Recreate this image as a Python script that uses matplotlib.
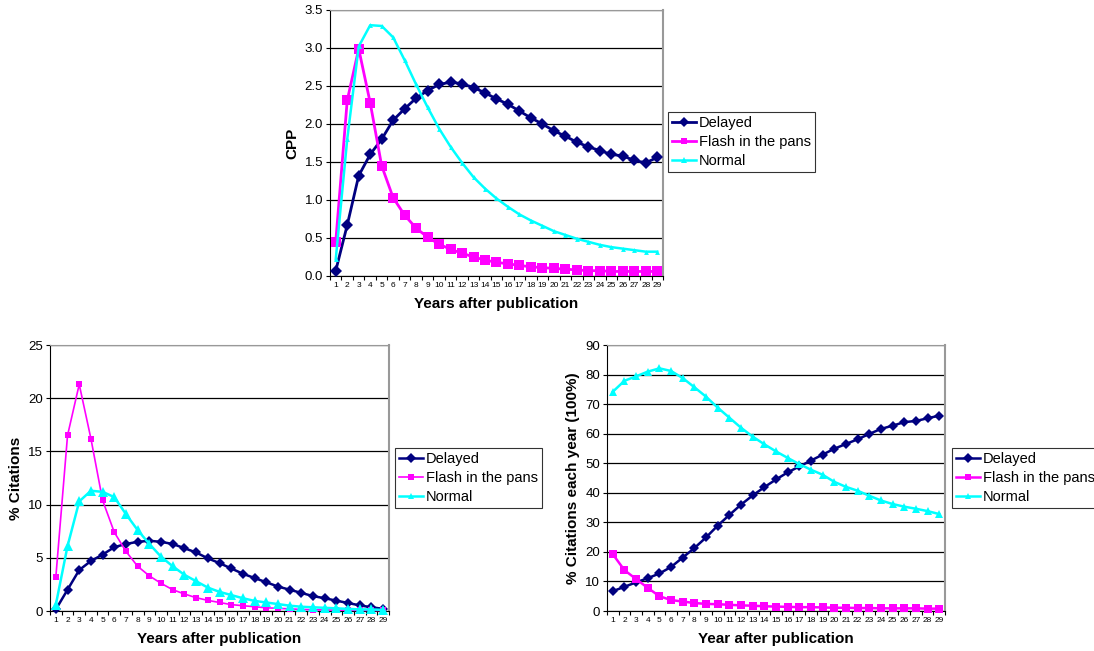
import numpy as np
import matplotlib.pyplot as plt

plt.rcParams['font.family'] = ['Liberation Sans', 'DejaVu Sans']

years = np.arange(1, 30)
series_names = ['Delayed', 'Flash in the pans', 'Normal']

# CPP (top)
cpp_delayed = [0.07, 0.67, 1.32, 1.60, 1.80, 2.05, 2.20, 2.34, 2.44, 2.52, 2.55, 2.53, 2.48, 2.41,
               2.33, 2.26, 2.17, 2.08, 2.00, 1.91, 1.84, 1.76, 1.70, 1.65, 1.60, 1.58, 1.52, 1.49, 1.56]
cpp_flash = [0.45, 2.31, 2.99, 2.28, 1.45, 1.03, 0.80, 0.63, 0.51, 0.42, 0.35, 0.30, 0.25, 0.21,
             0.18, 0.16, 0.14, 0.12, 0.11, 0.10, 0.09, 0.08, 0.07, 0.07, 0.06, 0.06, 0.06, 0.06, 0.06]
cpp_normal = [0.22, 1.80, 3.02, 3.30, 3.29, 3.14, 2.84, 2.52, 2.22, 1.94, 1.70, 1.49, 1.30, 1.15,
              1.02, 0.91, 0.81, 0.73, 0.66, 0.59, 0.54, 0.49, 0.45, 0.41, 0.38, 0.36, 0.34, 0.32, 0.32]

# % citations (bottom left)
pct_delayed = [0.15, 2.0, 3.85, 4.7, 5.3, 6.0, 6.3, 6.5, 6.6, 6.5, 6.3, 5.9, 5.5, 4.95,
               4.5, 4.0, 3.5, 3.1, 2.7, 2.3, 2.0, 1.7, 1.4, 1.2, 0.97, 0.75, 0.53, 0.35, 0.2]
pct_flash = [3.2, 16.5, 21.3, 16.2, 10.4, 7.4, 5.6, 4.2, 3.3, 2.6, 2.0, 1.6, 1.25, 1.0,
             0.8, 0.6, 0.5, 0.4, 0.3, 0.25, 0.2, 0.15, 0.12, 0.1, 0.08, 0.07, 0.06, 0.05, 0.05]
pct_normal = [0.6, 6.1, 10.3, 11.3, 11.2, 10.7, 9.1, 7.6, 6.3, 5.1, 4.2, 3.4, 2.8, 2.2,
              1.8, 1.5, 1.2, 0.95, 0.8, 0.65, 0.5, 0.4, 0.35, 0.3, 0.25, 0.2, 0.15, 0.15, 0.1]

# % citations each year (bottom right)
yr_delayed = [6.7, 8.2, 9.7, 11.1, 12.7, 14.9, 18.1, 21.3, 24.9, 28.9, 32.5, 36.0, 39.1, 41.9,
              44.5, 46.9, 48.9, 50.9, 52.9, 54.9, 56.5, 58.1, 59.9, 61.6, 62.7, 63.9, 64.3, 65.2, 66.1]
yr_flash = [19.2, 13.8, 10.8, 7.8, 5.0, 3.7, 3.2, 2.7, 2.4, 2.3, 2.1, 1.9, 1.8, 1.6,
            1.5, 1.4, 1.3, 1.3, 1.2, 1.1, 1.1, 1.0, 1.0, 0.9, 0.9, 0.9, 0.9, 0.8, 0.8]
yr_normal = [74.2, 77.9, 79.4, 81.0, 82.1, 81.2, 78.8, 75.7, 72.5, 68.8, 65.4, 62.0, 59.0, 56.4,
             54.0, 51.8, 49.7, 47.8, 46.1, 43.7, 42.0, 40.7, 39.0, 37.4, 36.2, 35.3, 34.6, 33.8, 32.8]

colors = ['#000080', '#FF00FF', '#00FFFF']
markers = ['D', 's', '^']

W, H = 1094, 651
fig = plt.figure(figsize=(W / 100, H / 100), dpi=100)


def make_axes(l, t, r, b):
    return fig.add_axes([l / W, 1 - b / H, (r - l) / W, (b - t) / H])


def setup(ax, data, ylim, ystep, yfmt, ylabel, xlabel, msizes, lws, legbox):
    for vals, c, m, ms, lw, name in zip(data, colors, markers, msizes, lws, series_names):
        ax.plot(years, vals, color=c, marker=m, markersize=ms, linewidth=lw,
                markeredgewidth=0, label=name, clip_on=False, zorder=3)
    ax.set_xlim(0.5, 29.5)
    ax.set_ylim(*ylim)
    yt = np.arange(ylim[0], ylim[1] + ystep / 2, ystep)
    ax.set_yticks(yt)
    ax.set_yticklabels([yfmt.format(v) for v in yt], fontsize=9.5)
    ax.set_xticks(years)
    ax.set_xticklabels([str(y) for y in years], fontsize=6)
    ax.set_xticks(np.arange(0.5, 30, 1), minor=True)
    ax.tick_params(axis='x', which='major', length=0, pad=4)
    ax.tick_params(axis='x', which='minor', length=3, direction='out', width=0.8)
    ax.tick_params(axis='y', length=3, direction='out', width=0.8, pad=2)
    ax.grid(axis='y', color='black', linewidth=0.9, zorder=1)
    ax.set_axisbelow(True)
    ax.spines['left'].set_color('black')
    ax.spines['bottom'].set_color('black')
    ax.spines['top'].set_color('#999999')
    ax.spines['right'].set_color('#999999')
    ax.spines['right'].set_linewidth(1.5)
    ax.set_ylabel(ylabel, fontsize=11, fontweight='bold', labelpad=4)
    ax.set_xlabel(xlabel, fontsize=11, fontweight='bold', labelpad=6)
    leg = ax.legend(loc='upper left', bbox_to_anchor=legbox, bbox_transform=fig.transFigure,
                    frameon=True, fancybox=False, fontsize=10.5, handlelength=1.6,
                    handletextpad=0.2, borderpad=0.3, labelspacing=0.33, borderaxespad=0)
    leg.get_frame().set_edgecolor('black')
    leg.get_frame().set_linewidth(0.8)
    for h in leg.legend_handles:
        h.set_markersize(5)


ax1 = make_axes(330, 10, 663, 276)
setup(ax1, [cpp_delayed, cpp_flash, cpp_normal], (0, 3.5), 0.5, '{:.1f}', 'CPP',
      'Years after publication', [6, 7.5, 3.5], [2, 2, 1.8], (668 / W, 1 - 112 / H))

ax2 = make_axes(50, 345, 389, 611)
setup(ax2, [pct_delayed, pct_flash, pct_normal], (0, 25), 5, '{:.0f}', '% Citations',
      'Years after publication', [5.5, 5, 6.5], [1.8, 1.2, 1.8], (395 / W, 1 - 448 / H))

ax3 = make_axes(607, 345, 945, 611)
setup(ax3, [yr_delayed, yr_flash, yr_normal], (0, 90), 10, '{:.0f}', '% Citations each year (100%)',
      'Year after publication', [5, 6, 6], [1.8, 1.8, 1.8], (952 / W, 1 - 448 / H))

fig.savefig('out.png', dpi=100)
